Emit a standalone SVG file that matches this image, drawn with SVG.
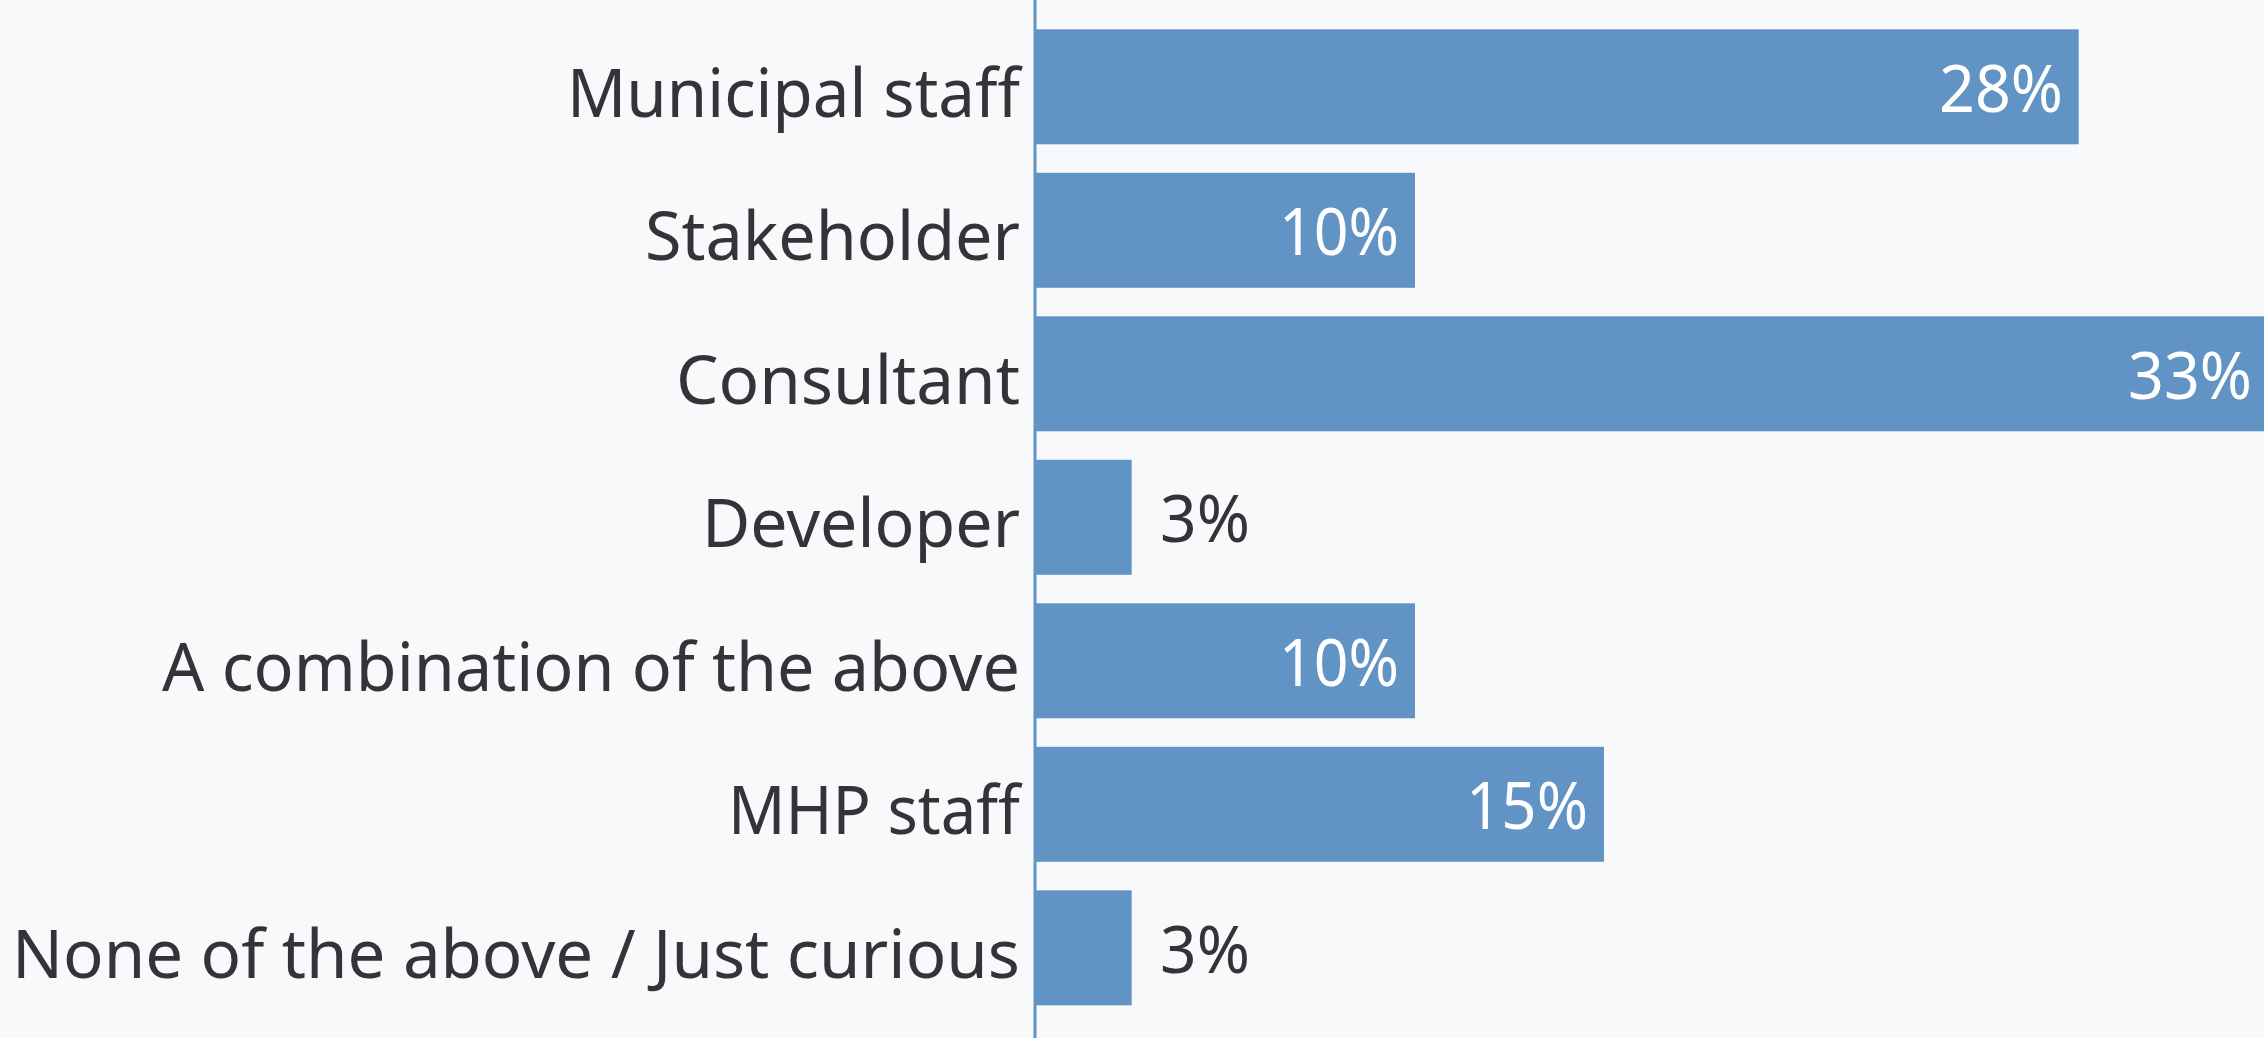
<svg xmlns="http://www.w3.org/2000/svg" width="2264" height="1038" viewBox="0 0 2264 1038">
<style>
.bar{fill:#6194c5}
.cat{font-family:"Noto Sans","Open Sans",sans-serif;font-size:68px;fill:#333438;text-anchor:end}
.vin{font-family:"Noto Sans","Open Sans",sans-serif;font-size:65px;fill:#ffffff;text-anchor:end}
.vout{font-family:"Noto Sans","Open Sans",sans-serif;font-size:65px;fill:#333438;text-anchor:start}
</style>
<rect x="0" y="0" width="2264" height="1038" fill="#f8f9fb"/>
<g id="bar-municipal">
<rect class="bar" x="1036" y="29.3" width="1042.7" height="115"/>
<text class="cat" x="1020" y="116.8" textLength="453" lengthAdjust="spacingAndGlyphs">Municipal staff</text>
<text class="vin" x="2063" y="111.8" textLength="124" lengthAdjust="spacingAndGlyphs">28%</text>
</g>
<g id="bar-stakeholder">
<rect class="bar" x="1036" y="172.8" width="379" height="115"/>
<text class="cat" x="1020" y="260.3" textLength="375" lengthAdjust="spacingAndGlyphs">Stakeholder</text>
<text class="vin" x="1399" y="255.3" textLength="120" lengthAdjust="spacingAndGlyphs">10%</text>
</g>
<g id="bar-consultant">
<rect class="bar" x="1036" y="316.3" width="1228" height="115"/>
<text class="cat" x="1020" y="403.8" textLength="344" lengthAdjust="spacingAndGlyphs">Consultant</text>
<text class="vin" x="2252" y="398.8" textLength="124" lengthAdjust="spacingAndGlyphs">33%</text>
</g>
<g id="bar-developer">
<rect class="bar" x="1036" y="459.8" width="95.7" height="115"/>
<text class="cat" x="1020" y="547.3" textLength="318" lengthAdjust="spacingAndGlyphs">Developer</text>
<text class="vout" x="1160" y="542.3" textLength="90" lengthAdjust="spacingAndGlyphs">3%</text>
</g>
<g id="bar-combination">
<rect class="bar" x="1036" y="603.3" width="379" height="115"/>
<text class="cat" x="1020" y="690.8" textLength="858" lengthAdjust="spacingAndGlyphs">A combination of the above</text>
<text class="vin" x="1399" y="685.8" textLength="120" lengthAdjust="spacingAndGlyphs">10%</text>
</g>
<g id="bar-mhp">
<rect class="bar" x="1036" y="746.8" width="568" height="115"/>
<text class="cat" x="1020" y="834.3" textLength="292" lengthAdjust="spacingAndGlyphs">MHP staff</text>
<text class="vin" x="1588" y="829.3" textLength="122" lengthAdjust="spacingAndGlyphs">15%</text>
</g>
<g id="bar-none">
<rect class="bar" x="1036" y="890.3" width="95.7" height="115"/>
<text class="cat" x="1020" y="977.8" textLength="1008" lengthAdjust="spacingAndGlyphs">None of the above / Just curious</text>
<text class="vout" x="1160" y="972.8" textLength="90" lengthAdjust="spacingAndGlyphs">3%</text>
</g>
<g id="connectors">
<line x1="1035" y1="0" x2="1035" y2="1038" stroke="#6194c5" stroke-width="3"/>
</g>
</svg>
